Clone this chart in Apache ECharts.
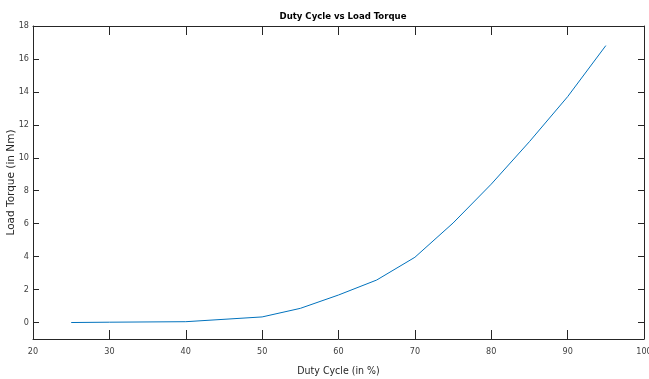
<!DOCTYPE html>
<html>
<head>
<meta charset="utf-8">
<script src="https://cdn.jsdelivr.net/npm/echarts@6/dist/echarts.min.js"></script>
<style>
  html, body { margin: 0; padding: 0; background: #fff; }
  #main { width: 649px; height: 379px; }
</style>
</head>
<body>
<div id="main"></div>
<script>
const dutyCycle = [25, 30, 40, 50, 55, 60, 65, 70, 75, 80, 85, 90, 95];
const loadTorque = [0.0, 0.02, 0.05, 0.34, 0.86, 1.67, 2.58, 3.96, 6.04, 8.4, 10.98, 13.71, 16.81];
const xTicks = [20, 30, 40, 50, 60, 70, 80, 90, 100];
const yTicks = [0, 2, 4, 6, 8, 10, 12, 14, 16, 18];

const axisColor = '#262626';
const labelFont = "'Liberation Sans Narrow', 'DejaVu Sans Condensed', Arial, sans-serif";

const chart = echarts.init(document.getElementById('main'));

const xBase = {
  type: 'value',
  min: 20,
  max: 100,
  interval: 10,
  axisLine: { onZero: false, lineStyle: { color: axisColor, width: 1 } },
  axisTick: { inside: true, length: 9, lineStyle: { color: axisColor } },
  splitLine: { show: false },
};
const yBase = {
  type: 'value',
  min: -1,
  max: 18,
  axisLine: { onZero: false, lineStyle: { color: axisColor, width: 1 } },
  axisTick: { inside: true, length: 6, customValues: yTicks, lineStyle: { color: axisColor } },
  splitLine: { show: false },
};

chart.setOption({
  animation: false,
  title: {
    text: 'Duty Cycle vs Load Torque',
    left: 338,
    textAlign: 'center',
    top: 7,
    textStyle: { fontFamily: labelFont, fontSize: 9.5, fontWeight: 'bold', color: '#000' },
  },
  grid: { left: 33, right: 5, top: 26, bottom: 40, outerBoundsMode: 'none' },
  xAxis: [
    {
      ...xBase,
      position: 'bottom',
      name: 'Duty Cycle (in %)',
      nameLocation: 'middle',
      nameGap: 27,
      nameMoveOverlap: false,
      nameTextStyle: { fontFamily: labelFont, fontSize: 10.5, color: axisColor },
      axisLabel: { margin: 8, fontFamily: labelFont, fontSize: 9, color: '#404040', customValues: xTicks },
    },
    { ...xBase, position: 'top', axisLabel: { show: false } },
  ],
  yAxis: [
    {
      ...yBase,
      position: 'left',
      name: 'Load Torque (in Nm)',
      nameLocation: 'middle',
      nameGap: 16,
      nameMoveOverlap: false,
      nameTextStyle: { fontFamily: "'DejaVu Sans', Arial, sans-serif", fontSize: 10.5, color: axisColor },
      axisLabel: { margin: 4, fontFamily: labelFont, fontSize: 9, color: '#404040', customValues: yTicks },
    },
    { ...yBase, position: 'right', axisLabel: { show: false } },
  ],
  series: [
    {
      type: 'line',
      data: dutyCycle.map((d, i) => [d, loadTorque[i]]),
      showSymbol: false,
      symbol: 'none',
      lineStyle: { color: '#0072BD', width: 1 },
    },
  ],
});
</script>
</body>
</html>
